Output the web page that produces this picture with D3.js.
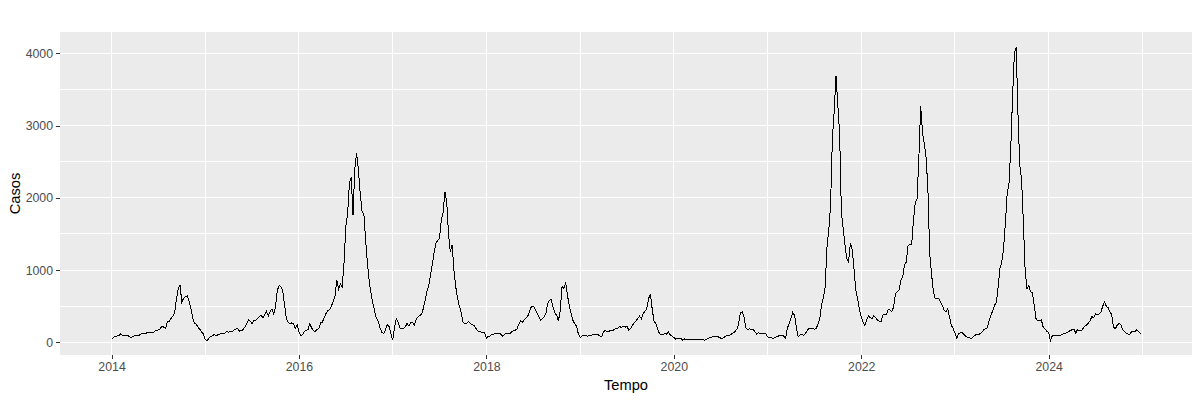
<!DOCTYPE html>
<html>
<head>
<meta charset="utf-8">
<script src="https://cdn.jsdelivr.net/npm/d3@7"></script>
<style>
  body { margin: 0; background: #fff; }
  text { font-family: "Liberation Sans", Arial, sans-serif; }
</style>
</head>
<body>
<script>
// casos por semana
const casos2014 = [40,65,85,87,95,118,102,98,98,100,78,70,85,97,100,100,105,130,125,122,140,135,135,135,155,165,172,190,230,212,195,290,290,330,365,410,600,740,790,560,610,635,645,570,480,340,270,250,210,180,145,115];
const casos2015 = [40,25,55,85,92,108,95,105,112,125,125,128,160,140,150,145,175,185,190,155,165,175,215,260,310,290,260,300,310,330,355,380,335,390,430,365,430,460,390,500,720,790,770,720,520,330,280,260,270,255,195,250];
const casos2016 = [147,95,110,150,170,175,255,205,160,155,180,190,270,280,345,400,440,450,500,570,640,865,735,810,770,1095,1600,1785,2200,2290,1760,2405,2620,2380,2060,1810,1780,1415,1095,840,680,545,430,335,290,200,140,120,175,245,220,130];
const casos2017 = [30,200,330,280,200,195,190,215,265,225,270,280,235,320,350,375,385,470,580,700,790,930,1080,1240,1370,1410,1440,1700,1800,2080,1950,1500,1250,1350,1000,770,610,500,420,280,255,260,290,265,245,240,200,165,150,145,140,130];
const casos2018 = [55,87,87,110,115,120,118,123,115,85,110,123,130,123,145,165,170,187,250,297,278,315,338,365,434,498,500,466,407,361,306,329,352,398,535,580,594,489,407,375,300,443,781,740,832,649,512,398,306,260,224,123];
const casos2019 = [68,87,95,95,87,96,100,105,110,110,110,87,80,146,165,146,155,165,165,178,192,200,220,205,224,210,224,174,192,233,270,297,329,365,329,398,434,466,603,672,466,297,260,192,123,105,105,123,115,146,105,87];
const casos2020 = [68,46,55,55,55,27,50,40,40,40,40,40,40,40,40,40,40,32,41,55,68,73,78,82,82,73,60,55,73,87,96,96,115,133,150,183,260,415,420,350,205,178,187,178,183,146,115,137,123,123,123,123];
const casos2021 = [78,69,69,55,69,78,87,100,100,87,55,193,262,330,414,377,216,78,100,115,97,124,161,193,193,193,184,193,248,331,515,621,770,1320,1550,1900,2815,3200,3685,3300,2900,1800,1570,1350,1160,1113,1375,1280,1020,720,600,460];
const casos2022 = [354,285,230,308,368,340,331,368,345,308,294,285,377,386,386,460,446,423,492,676,700,722,860,906,1067,1113,1343,1352,1357,1688,1941,1987,2562,3275,2907,2746,2562,2125,1228,952,722,607,607,607,560,515,446,423,469,354,239,193];
const casos2023 = [133,55,120,134,134,110,83,74,65,51,74,97,110,110,120,143,175,190,203,305,374,443,512,559,766,1021,1113,1298,1645,2060,2200,2700,3400,4000,4085,3150,2450,2250,1650,980,744,790,700,690,510,330,296,305,310,210,190,150];
const casos2024 = [140,25,90,92,92,95,95,105,115,125,132,150,165,175,185,130,175,165,160,190,220,240,265,300,360,340,395,390,390,420,500,560,500,480,420,385,210,190,235,260,250,180,155,130,115,110,150,150,155,175,150,120];

const anos = [2014, 2015, 2016, 2017, 2018, 2019, 2020, 2021, 2022, 2023, 2024];
const porAno = [casos2014, casos2015, casos2016, casos2017, casos2018, casos2019, casos2020, casos2021, casos2022, casos2023, casos2024];

const xMajor = [2014, 2016, 2018, 2020, 2022, 2024];
const xMinor = [2015, 2017, 2019, 2021, 2023, 2025];
const yMajor = [0, 1000, 2000, 3000, 4000];
const yMinor = [500, 1500, 2500, 3500];

const serie = [];
anos.forEach((ano, a) => {
    porAno[a].forEach((v, i) => serie.push({ t: ano + i / 52, v: v }));
});

const width = 1200, height = 400;
const painel = { left: 60, right: 1192, top: 32, bottom: 355 };

const x = d3.scaleLinear().domain([2013.45, 2025.53]).range([painel.left, painel.right]);
const y = d3.scaleLinear().domain([-174, 4294]).range([painel.bottom, painel.top]);

const svg = d3.select("body")
    .append("svg")
    .attr("width", width)
    .attr("height", height)
    .style("display", "block");

svg.append("rect")
    .attr("x", painel.left)
    .attr("y", painel.top)
    .attr("width", painel.right - painel.left)
    .attr("height", painel.bottom - painel.top)
    .attr("fill", "#EBEBEB");

// grade
const grade = svg.append("g").attr("stroke", "#fff").attr("stroke-width", 1).attr("shape-rendering", "crispEdges");
grade.selectAll(".v").data(xMinor.concat(xMajor)).enter().append("line")
    .attr("x1", d => x(d)).attr("x2", d => x(d))
    .attr("y1", painel.top).attr("y2", painel.bottom);
grade.selectAll(".h").data(yMinor.concat(yMajor)).enter().append("line")
    .attr("x1", painel.left).attr("x2", painel.right)
    .attr("y1", d => y(d)).attr("y2", d => y(d));

const linha = d3.line().x(d => x(d.t)).y(d => y(d.v));

svg.append("path")
    .datum(serie)
    .attr("d", linha)
    .attr("fill", "none")
    .attr("stroke", "#000")
    .attr("stroke-width", 1)
    .attr("shape-rendering", "crispEdges");

// eixos
const xAxis = d3.axisBottom(x).tickValues(xMajor).tickFormat(d3.format("d")).tickSize(4).tickPadding(3);
const yAxis = d3.axisLeft(y).tickValues(yMajor).tickFormat(d3.format("d")).tickSize(4).tickPadding(3);

const gx = svg.append("g").attr("transform", "translate(0," + painel.bottom + ")").call(xAxis);
const gy = svg.append("g").attr("transform", "translate(" + painel.left + ",0)").call(yAxis);

[gx, gy].forEach(g => {
    g.select(".domain").remove();
    g.selectAll(".tick line").attr("stroke", "#333").attr("shape-rendering", "crispEdges");
    g.selectAll(".tick text")
        .attr("fill", "#4D4D4D")
        .style("font-size", "12.3px")
        .style("font-family", '"Liberation Sans", Arial, sans-serif');
});

svg.append("text")
    .attr("x", (painel.left + painel.right) / 2)
    .attr("y", 390)
    .attr("text-anchor", "middle")
    .attr("font-size", 14.7)
    .attr("fill", "#000")
    .text("Tempo");

svg.append("text")
    .attr("transform", "translate(20," + (painel.top + painel.bottom) / 2 + ") rotate(-90)")
    .attr("text-anchor", "middle")
    .attr("font-size", 14.7)
    .attr("fill", "#000")
    .text("Casos");
</script>
</body>
</html>
